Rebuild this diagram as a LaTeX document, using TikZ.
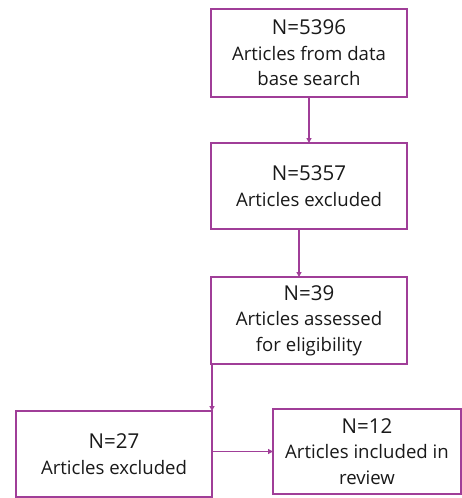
\documentclass[tikz,border=0pt]{standalone}
\usepackage{fontspec}
\setmainfont{Open Sans}
\usetikzlibrary{positioning,arrows.meta}
\definecolor{plumline}{RGB}{160,62,152}
\definecolor{inkgrey}{RGB}{25,25,25}
\newcommand{\countN}[1]{{\fontsize{20.5}{25}\selectfont N=#1}}

\begin{document}
\begin{tikzpicture}[x=1pt,y=-1pt,
    fbox/.style={draw=plumline,line width=1.6pt,fill=white,align=center,
                 text=inkgrey,font=\fontsize{18.6}{25.5}\selectfont,
                 inner sep=2pt,outer sep=0pt},
    flow/.style={draw=plumline,line width=1.4pt,
                 -{Triangle[length=5pt,width=5pt]}}]
  \useasboundingbox (0,0) rectangle (462,498);

  \node[fbox,minimum width=196pt,minimum height=88pt] (search) at (309,53) {%
    \countN{5396}\\Articles from data\\base search};

  \node[fbox,minimum width=196pt,minimum height=86pt] (excl1) at (309,186) {%
    \countN{5357}\\Articles excluded};

  \node[fbox,minimum width=196pt,minimum height=87pt] (assess) at (309,320.5) {%
    \countN{39}\\Articles assessed\\for eligibility};

  \node[fbox,minimum width=196pt,minimum height=86pt] (excl2) at (114,454) {%
    \countN{27}\\Articles excluded};

  \node[fbox,minimum width=188pt,minimum height=85pt] (incl) at (367,451.5) {%
    \countN{12}\\Articles included in\\review};

  % connectors
  \draw[flow] (search.south) -- (excl1.north);
  \draw[flow] ([xshift=-10pt]excl1.south) -- ([xshift=-10pt]assess.north);
  \draw[flow] ([xshift=1pt]assess.south west)
    -- ([xshift=1pt]assess.south west |- excl2.north);
  \draw[flow] (incl.west -| excl2.east) -- (incl.west);
\end{tikzpicture}
\end{document}
